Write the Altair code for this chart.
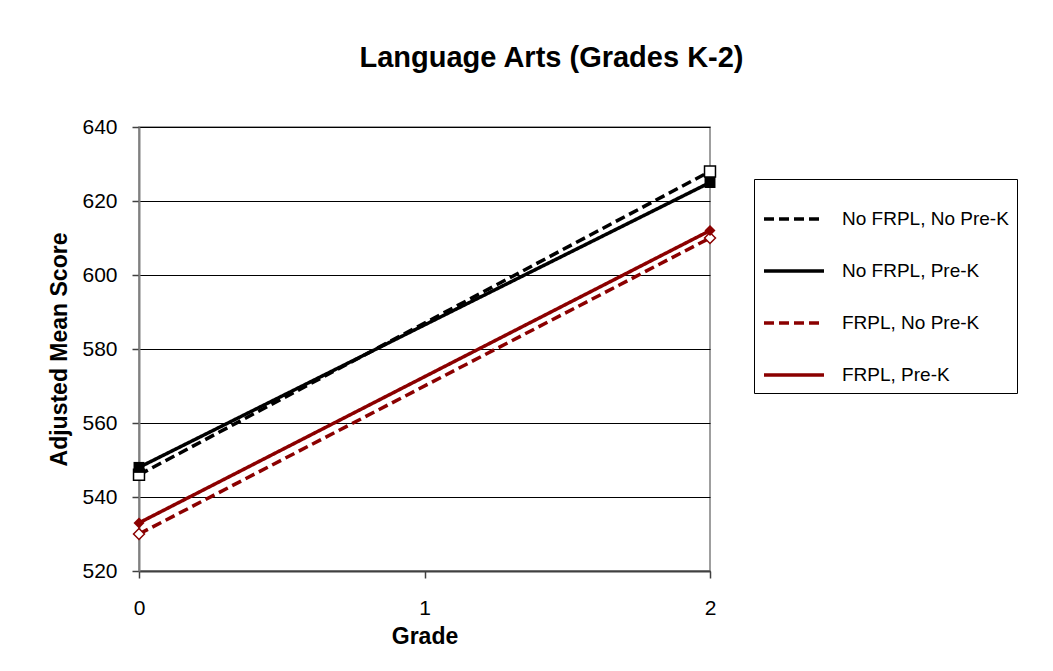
import altair as alt
import pandas as pd

series = ["No FRPL, No Pre-K", "No FRPL, Pre-K", "FRPL, No Pre-K", "FRPL, Pre-K"]
grades = [0, 2]
score_nofrpl_noprek = [546, 628]
score_nofrpl_prek = [548, 625]
score_frpl_noprek = [530, 610]
score_frpl_prek = [533, 612]
y_ticks = [520, 540, 560, 580, 600, 620, 640]

colors = ["#000000", "#000000", "#8B0000", "#8B0000"]
dashes = [[10, 5], [1, 0], [10, 5], [1, 0]]
shapes = ["square", "square", "diamond", "diamond"]

rows = []
for s, vals in zip(series, [score_nofrpl_noprek, score_nofrpl_prek, score_frpl_noprek, score_frpl_prek]):
    for g, v in zip(grades, vals):
        rows.append({"series": s, "grade": g, "score": v})
df = pd.DataFrame(rows)

font = "Liberation Sans"

x = alt.X("grade:Q", title="Grade",
          scale=alt.Scale(domain=[0, 2], nice=False, zero=False),
          axis=alt.Axis(tickMinStep=1, tickCount=3, format="d", grid=False))
y = alt.Y("score:Q", title="Adjusted Mean Score",
          scale=alt.Scale(domain=[520, 640], nice=False, zero=False),
          axis=alt.Axis(values=y_ticks, grid=True))

color = alt.Color("series:N", scale=alt.Scale(domain=series, range=colors),
                  legend=alt.Legend(title=None, orient="none", legendX=615, legendY=52,
                                    symbolType="stroke", symbolSize=3600,
                                    symbolStrokeWidth=3.5, labelFontSize=19,
                                    labelColor="#000", rowPadding=10,
                                    padding=8, strokeColor="#000",
                                    labelLimit=300, labelOffset=16))
dash = alt.StrokeDash("series:N", scale=alt.Scale(domain=series, range=dashes), legend=None)

base = alt.Chart(df).encode(x=x, y=y)

lines = base.mark_line(strokeWidth=3.5, clip=False).encode(
    color=color, strokeDash=dash, detail="series:N")

pts_open = base.transform_filter(
    alt.FieldOneOfPredicate(field="series", oneOf=[series[0], series[2]])
).mark_point(filled=True, fill="white", strokeWidth=1.5, size=120, opacity=1, clip=False).encode(
    stroke=alt.Stroke("series:N", scale=alt.Scale(domain=series, range=colors), legend=None),
    shape=alt.Shape("series:N", scale=alt.Scale(domain=series, range=shapes), legend=None))

pts_fill = base.transform_filter(
    alt.FieldOneOfPredicate(field="series", oneOf=[series[1], series[3]])
).mark_point(filled=True, size=120, opacity=1, clip=False).encode(
    fill=alt.Fill("series:N", scale=alt.Scale(domain=series, range=colors), legend=None),
    shape=alt.Shape("series:N", scale=alt.Scale(domain=series, range=shapes), legend=None))

chart = alt.layer(lines, pts_open, pts_fill).resolve_legend(
    fill="independent", stroke="independent", shape="independent"
).properties(
    width=571, height=444,
    title=alt.TitleParams("Language Arts (Grades K-2)", fontSize=29, fontWeight="bold",
                          font=font, anchor="middle", dx=127, offset=43, color="#000"),
    autosize=alt.AutoSizeParams(type="none"),
    padding={"left": 131, "top": 119, "right": 335, "bottom": 90},
).configure(font=font).configure_view(stroke="#808080", strokeWidth=1.5
).configure_axis(labelFont=font, titleFont=font, labelFontSize=21, labelColor="#000",
                 titleFontSize=23, titleFontWeight="bold", titleColor="#000",
                 tickColor="#404040", tickSize=7, tickWidth=1.5,
                 labelOverlap=False, labelFlush=False
).configure_axisX(domainColor="#404040", domainWidth=2, labelPadding=19, titlePadding=7
).configure_axisY(domainColor="#808080", domainWidth=2, labelPadding=15, titlePadding=10,
                  gridColor="#000", gridWidth=1, gridOpacity=1
).configure_legend(labelFont=font)

chart.save("out.html", embed_options={"renderer": "svg", "actions": False})
